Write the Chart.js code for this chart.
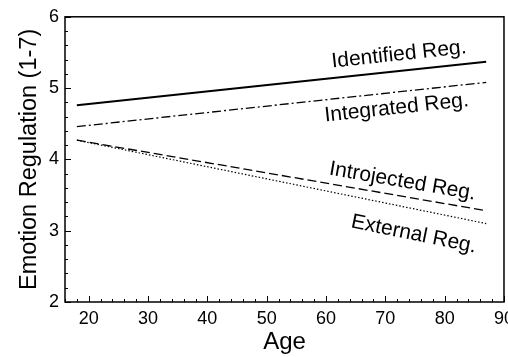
<!DOCTYPE html>
<html>
<head>
<meta charset="utf-8">
<script src="https://cdn.jsdelivr.net/npm/chart.js@4"></script>
<style>
  html, body { margin: 0; padding: 0; background: #fff; overflow: hidden; }
  #wrap { width: 520px; height: 357px; }
</style>
</head>
<body>
<div id="wrap"><canvas id="chart" width="520" height="357"></canvas></div>
<script>
const ages = [18, 87];
const identified = [4.76, 5.37];
const integrated = [4.46, 5.08];
const introjected = [4.27, 3.28];
const external = [4.27, 3.10];
const xTicks = [20, 30, 40, 50, 60, 70, 80, 90];
const yTicks = [2, 3, 4, 5, 6];

// labels along the lines: [text, age, value, dataset]
const lineLabels = [
    ["Identified Reg.", 72.3, 5.47, 0],
    ["Integrated Reg.", 71.9, 4.72, 1],
    ["Introjected Reg.", 72.9, 3.69, 2],
    ["External Reg.", 74.8, 2.95, 3]
];

const font = "'Liberation Sans', Arial, sans-serif";

function pts(ys) {
    return ages.map((a, i) => ({ x: a, y: ys[i] }));
}

// border box, inward ticks, rotated line labels
const extras = {
    id: "extras",
    afterDraw(chart) {
        const ctx = chart.ctx;
        const a = chart.chartArea;
        const xs = chart.scales.x, ys = chart.scales.y;
        ctx.save();
        ctx.strokeStyle = "#000";
        ctx.lineWidth = 1.5;
        ctx.strokeRect(a.left, a.top, a.right - a.left, a.bottom - a.top);

        ctx.lineWidth = 1;
        for (let v = 16; v <= 90; v += 2) {
            const px = Math.round(xs.getPixelForValue(v)) + 0.5;
            const len = v % 10 === 0 ? 6 : 3;
            ctx.beginPath();
            ctx.moveTo(px, a.bottom);
            ctx.lineTo(px, a.bottom - len);
            ctx.stroke();
        }
        for (let i = 0; i <= 20; i++) {
            const v = 2 + i * 0.2;
            const py = Math.round(ys.getPixelForValue(v)) + 0.5;
            const len = i % 5 === 0 ? 6 : 3;
            ctx.beginPath();
            ctx.moveTo(a.left, py);
            ctx.lineTo(a.left + len, py);
            ctx.stroke();
        }

        ctx.fillStyle = "#000";
        ctx.font = "21px " + font;
        ctx.textAlign = "center";
        ctx.textBaseline = "middle";
        lineLabels.forEach(([text, x, y, di]) => {
            const d = chart.data.datasets[di].data;
            const x0 = xs.getPixelForValue(d[0].x), y0 = ys.getPixelForValue(d[0].y);
            const x1 = xs.getPixelForValue(d[1].x), y1 = ys.getPixelForValue(d[1].y);
            const ang = Math.atan2(y1 - y0, x1 - x0);
            ctx.save();
            ctx.translate(xs.getPixelForValue(x), ys.getPixelForValue(y));
            ctx.rotate(ang);
            ctx.fillText(text, 0, 0);
            ctx.restore();
        });
        ctx.restore();
    }
};

new Chart(document.getElementById("chart"), {
    type: "line",
    data: {
        datasets: [
            { data: pts(identified), borderColor: "#000", borderWidth: 2, pointRadius: 0 },
            { data: pts(integrated), borderColor: "#000", borderWidth: 1.3, borderDash: [9, 3, 2, 3], pointRadius: 0 },
            { data: pts(introjected), borderColor: "#000", borderWidth: 1.3, borderDash: [9, 4], pointRadius: 0 },
            { data: pts(external), borderColor: "#000", borderWidth: 1.2, borderDash: [1.5, 2], pointRadius: 0 }
        ]
    },
    options: {
        responsive: false,
        animation: false,
        layout: { padding: { top: 14, right: 15, left: 15, bottom: 0 } },
        plugins: { legend: { display: false }, tooltip: { enabled: false } },
        scales: {
            x: {
                type: "linear",
                min: 16,
                max: 90,
                afterBuildTicks: s => { s.ticks = xTicks.map(v => ({ value: v })); },
                afterFit: s => { s.height = 55; },
                grid: { display: false, drawTicks: false },
                border: { display: false },
                ticks: { color: "#000", padding: 6, maxRotation: 0, font: { size: 18, family: font } },
                title: { display: true, text: "Age", color: "#000", padding: 0, font: { size: 24, family: font } }
            },
            y: {
                min: 2,
                max: 6,
                afterBuildTicks: s => { s.ticks = yTicks.map(v => ({ value: v })); },
                afterFit: s => { s.width = 50; },
                grid: { display: false, drawTicks: false },
                border: { display: false },
                ticks: { color: "#000", padding: 6, font: { size: 18, family: font } },
                title: { display: true, text: "Emotion Regulation (1-7)", color: "#000", padding: 0, font: { size: 23.5, family: font } }
            }
        }
    },
    plugins: [extras]
});
</script>
</body>
</html>
